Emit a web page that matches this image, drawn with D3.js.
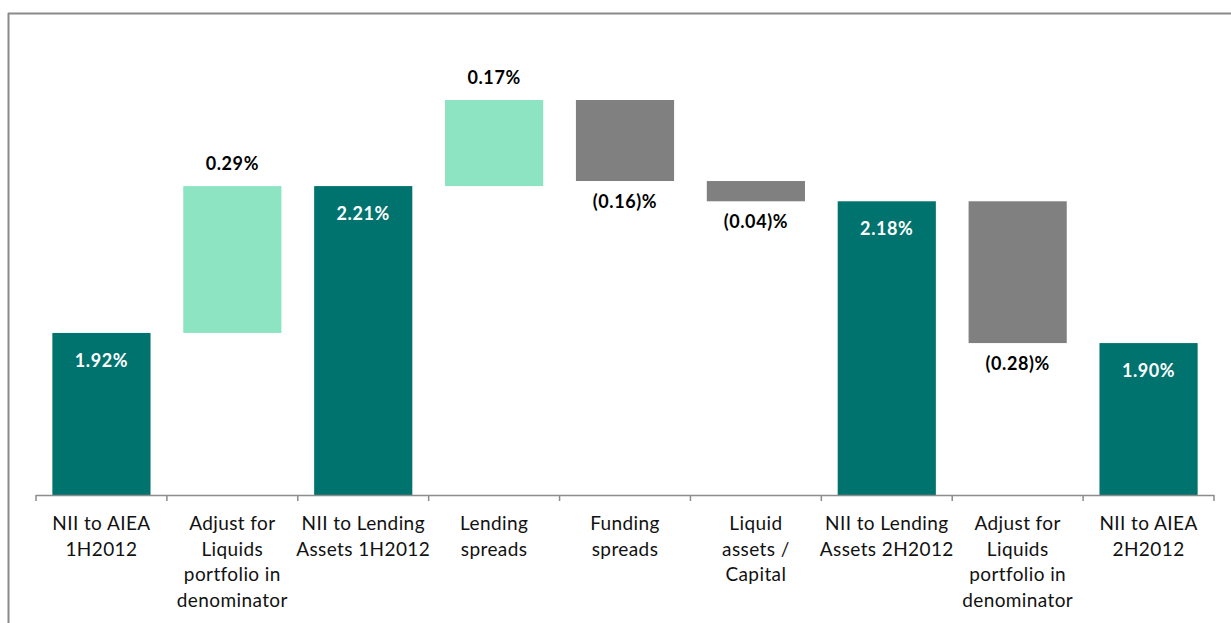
<!DOCTYPE html>
<html>
<head>
<meta charset="utf-8">
<script src="https://cdn.jsdelivr.net/npm/d3@7"></script>
<style>
  body { margin: 0; background: #fff; }
  svg { display: block; }
  .cat { font-family: Lato, "Open Sans", sans-serif; font-size: 19px; fill: #111; letter-spacing: 0.4px; }
  .val { font-family: Lato, "Open Sans", sans-serif; font-size: 18px; font-weight: bold; letter-spacing: 0.6px; }
</style>
</head>
<body>
<svg></svg>
<script>
// data
var categories = ["c1", "c2", "c3", "c4", "c5", "c6", "c7", "c8", "c9"];
var catLines = [
  ["NII to AIEA", "1H2012"],
  ["Adjust for", "Liquids", "portfolio in", "denominator"],
  ["NII to Lending", "Assets 1H2012"],
  ["Lending", "spreads"],
  ["Funding", "spreads"],
  ["Liquid", "assets /", "Capital"],
  ["NII to Lending", "Assets 2H2012"],
  ["Adjust for", "Liquids", "portfolio in", "denominator"],
  ["NII to AIEA", "2H2012"]
];
var values = [1.92, 0.29, 2.21, 0.17, -0.16, -0.04, 2.18, -0.28, 1.90];
var kinds  = ["total", "delta", "total", "delta", "delta", "delta", "total", "delta", "total"];
var valueLabels = ["1.92%", "0.29%", "2.21%", "0.17%", "(0.16)%", "(0.04)%", "2.18%", "(0.28)%", "1.90%"];

var width = 1231, height = 623;
var svg = d3.select('svg').attr('width', width).attr('height', height);

var colTotal = '#00736e', colUp = '#8de4c2', colDown = '#808080';

// frame
svg.append('line').attr('x1', 8.5).attr('x2', 8.5).attr('y1', 13).attr('y2', height)
  .attr('stroke', '#8a8a8a').attr('stroke-width', 2);
svg.append('line').attr('x1', 8).attr('x2', width).attr('y1', 13.5).attr('y2', 13.5)
  .attr('stroke', '#8a8a8a').attr('stroke-width', 2);

var x = d3.scaleBand().domain(categories).range([36, 1214]).paddingInner(0.25).paddingOuter(0.125);
var ymin = 1.6;
var y = d3.scaleLinear().domain([ymin, 2.38]).range([495, 100]);

// waterfall bars
var running = 0;
var bars = values.map(function(v, i) {
  var lo, hi;
  if (kinds[i] === "total") { lo = ymin; hi = v; running = v; }
  else { lo = running; hi = running + v; running = hi; }
  return { i: i, v: v, kind: kinds[i], lo: Math.min(lo, hi), hi: Math.max(lo, hi) };
});

var g = svg.append('g');
g.selectAll('rect.bar').data(bars).enter().append('rect')
  .attr('class', 'bar')
  .attr('x', function(d) { return x(categories[d.i]); })
  .attr('width', x.bandwidth())
  .attr('y', function(d) { return y(d.hi); })
  .attr('height', function(d) { return y(d.lo) - y(d.hi); })
  .attr('fill', function(d) { return d.kind === "total" ? colTotal : (d.v > 0 ? colUp : colDown); });

// value labels
g.selectAll('text.val').data(bars).enter().append('text')
  .attr('class', 'val')
  .attr('text-anchor', 'middle')
  .attr('x', function(d) { return x(categories[d.i]) + x.bandwidth() / 2; })
  .attr('y', function(d) {
    if (d.kind === "total") return y(d.hi) + 34;
    if (d.v > 0) return y(d.hi) - 16;
    return y(d.lo) + 27;
  })
  .attr('fill', function(d) { return d.kind === "total" ? '#fff' : '#000'; })
  .text(function(d) { return valueLabels[d.i]; });

// axis
var axis = svg.append('g').attr('transform', 'translate(0,495)');
axis.append('line').attr('x1', 36).attr('x2', 1214).attr('y1', 0.5).attr('y2', 0.5)
  .attr('stroke', '#8c8c8c').attr('stroke-width', 1.5);
var step = x.step();
d3.range(categories.length + 1).forEach(function(k) {
  var tx = 36 + k * (1178 / categories.length);
  axis.append('line').attr('x1', tx).attr('x2', tx).attr('y1', 0).attr('y2', 6)
    .attr('stroke', '#8c8c8c').attr('stroke-width', 1.5);
});

// category labels
categories.forEach(function(c, i) {
  var t = svg.append('text').attr('class', 'cat').attr('text-anchor', 'middle');
  catLines[i].forEach(function(line, j) {
    t.append('tspan').attr('x', x(c) + x.bandwidth() / 2).attr('y', 530 + j * 25.7).text(line);
  });
});
</script>
</body>
</html>
